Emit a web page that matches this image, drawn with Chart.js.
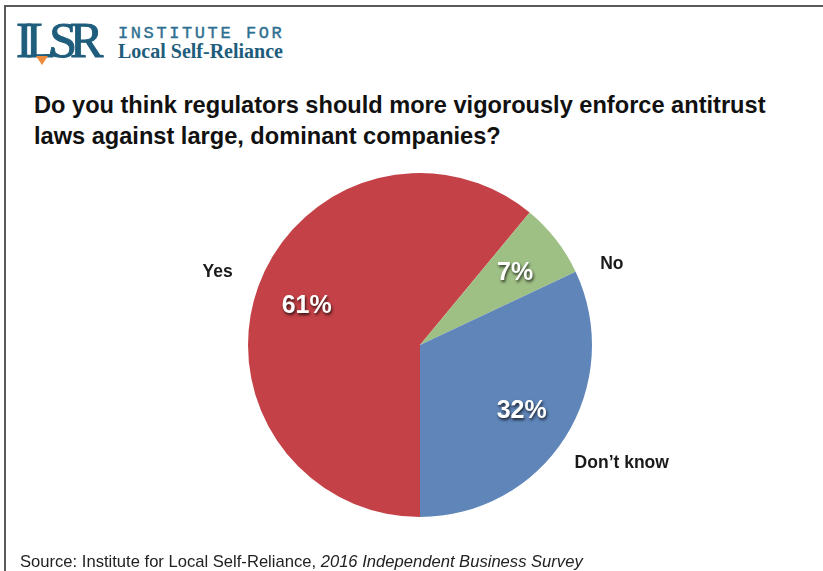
<!DOCTYPE html>
<html>
<head>
<meta charset="utf-8">
<script src="https://cdn.jsdelivr.net/npm/chart.js@4"></script>
<style>
  html, body { margin: 0; padding: 0; background: #fff; }
  #page { position: relative; width: 823px; height: 571px; overflow: hidden; background: #fff; }
  #frameTop { position: absolute; left: 4px; top: 5px; width: 819px; height: 2px; background: #5a5a5a; }
  #frameLeft { position: absolute; left: 4px; top: 5px; width: 2px; height: 566px; background: #5a5a5a; }
  #logo { position: absolute; left: 16px; top: 15px; font-family: "Liberation Serif", serif; color: #1e5d7b;
          font-size: 50px; letter-spacing: -7px; line-height: 50px; -webkit-text-stroke: 1px #1e5d7b; }
  #tri { position: absolute; left: 36px; top: 56px; width: 0; height: 0;
         border-left: 6px solid transparent; border-right: 6px solid transparent; border-top: 9px solid #ee8a3a; }
  #inst { position: absolute; left: 118px; top: 24px; font-family: "Liberation Mono", monospace; font-size: 17px;
          letter-spacing: 2.6px; color: #2e7091; -webkit-text-stroke: 0.4px #2e7091; }
  #lsr { position: absolute; left: 118px; top: 40px; font-family: "Liberation Serif", serif; font-weight: bold;
         font-size: 20px; color: #1e5d7b; }
  #title { position: absolute; left: 34px; top: 90px; font-family: "Liberation Sans", Arial, sans-serif;
           font-weight: bold; font-size: 23.6px; line-height: 31px; color: #111; }
  #source { position: absolute; left: 20px; top: 552px; font-family: "Liberation Sans", Arial, sans-serif;
            font-size: 16.6px; color: #222; }
  #chartBox { position: absolute; left: 0; top: 0; width: 823px; height: 571px; }
</style>
</head>
<body>
<div id="page">
  <div id="frameTop"></div>
  <div id="frameLeft"></div>
  <div id="logo">ILSR</div>
  <div id="tri"></div>
  <div id="inst">INSTITUTE FOR</div>
  <div id="lsr">Local Self-Reliance</div>
  <div id="title">Do you think regulators should more vigorously enforce antitrust<br>laws against large, dominant companies?</div>
  <div id="chartBox"><canvas id="pie" width="823" height="571"></canvas></div>
  <div id="source">Source: Institute for Local Self-Reliance, <i>2016 Independent Business Survey</i></div>
</div>
<script>
const categories = ['Yes', 'No', 'Don\u2019t know'];
const shares = [61, 7, 32];
const sliceColors = ['#c44247', '#9fc085', '#5f85b9'];

// outside label tweaks (degrees / radius factor)
const nameShift = [0, 15, -2];
const nameDist = [1.25, 1.21, 1.36];

const sliceLabels = {
  id: 'sliceLabels',
  afterDatasetsDraw(chart) {
    const ctx = chart.ctx;
    const arcs = chart.getDatasetMeta(0).data;
    arcs.forEach((arc, i) => {
      const p = arc.getProps(['x', 'y', 'startAngle', 'endAngle', 'outerRadius'], true);
      const mid = (p.startAngle + p.endAngle) / 2;
      const r = p.outerRadius;

      ctx.save();
      ctx.font = 'bold 25px "Liberation Sans", Arial, sans-serif';
      ctx.textAlign = 'center';
      ctx.textBaseline = 'middle';
      ctx.shadowColor = 'rgba(0,0,0,0.75)';
      ctx.shadowBlur = 3;
      ctx.shadowOffsetX = 1;
      ctx.shadowOffsetY = 1.5;
      ctx.fillStyle = '#fff';
      ctx.fillText(shares[i] + '%', p.x + Math.cos(mid) * r * 0.7, p.y + Math.sin(mid) * r * 0.7 + 2);
      ctx.restore();

      const a = mid + nameShift[i] * Math.PI / 180;
      ctx.save();
      ctx.font = 'bold 17.5px "Liberation Sans", Arial, sans-serif';
      ctx.textAlign = 'center';
      ctx.textBaseline = 'middle';
      ctx.fillStyle = '#1a1a1a';
      ctx.fillText(categories[i], p.x + Math.cos(a) * r * nameDist[i], p.y + Math.sin(a) * r * nameDist[i]);
      ctx.restore();
    });
  }
};

new Chart(document.getElementById('pie'), {
  type: 'pie',
  data: {
    labels: categories,
    datasets: [{
      data: shares,
      backgroundColor: sliceColors,
      borderWidth: 0
    }]
  },
  options: {
    responsive: false,
    animation: false,
    rotation: 180,
    layout: { padding: { top: 173, bottom: 54, left: 248, right: 231 } },
    plugins: {
      legend: { display: false },
      tooltip: { enabled: false }
    }
  },
  plugins: [sliceLabels]
});
</script>
</body>
</html>
